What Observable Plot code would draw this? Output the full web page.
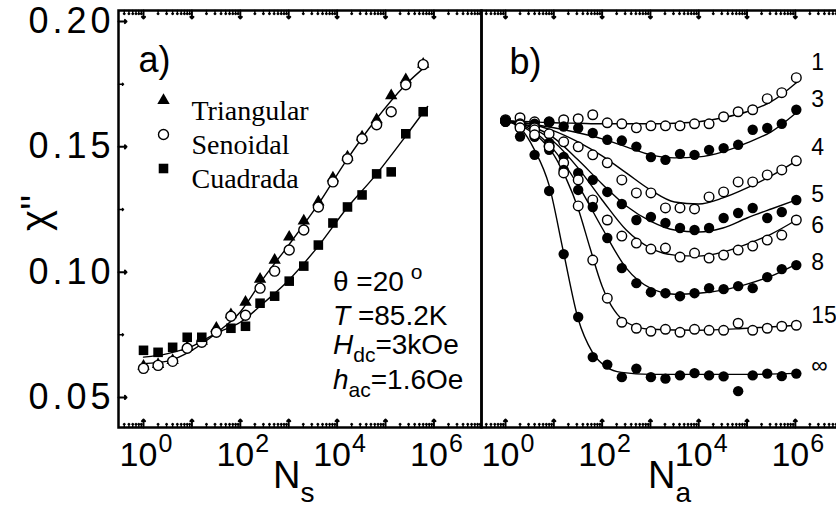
<!DOCTYPE html>
<html><head><meta charset="utf-8">
<script src="https://cdn.jsdelivr.net/npm/d3@7"></script>
<script src="https://cdn.jsdelivr.net/npm/@observablehq/plot@0.6"></script>
<style>
html,body{margin:0;padding:0;background:#fff;overflow:hidden;width:836px;height:520px}
#wrap{position:relative;width:836px;height:520px;overflow:hidden;background:#fff}
#wrap svg{position:absolute;top:0}
</style></head><body><div id="wrap"></div>
<script>
// ---------------- data : panel a (chi'' vs N_s) ----------------
const nsA = [1,2,4,8,16,32,64,128,256,512,1024,2048,4096,8192,16384,32768,65536,131072,262144,600000];
const triangular = [0.0625,0.0632,0.0648,0.0700,0.0724,0.0776,0.0830,0.0880,0.0972,0.1048,0.1140,0.1204,0.1280,0.1376,0.1460,0.1540,0.1608,0.1704,0.1768,0.1830];
const senoidal   = [0.0616,0.0628,0.0644,0.0696,0.0720,0.0760,0.0824,0.0828,0.0936,0.1004,0.1088,0.1168,0.1260,0.1360,0.1452,0.1532,0.1588,0.1640,0.1748,0.1828];
const cuadrada   = [0.0688,0.0680,0.0700,0.0740,0.0740,null,0.0776,0.0784,0.0876,0.0904,0.0964,0.1024,0.1108,0.1196,0.1260,0.1308,0.1392,0.1400,0.1552,0.1640];
// fitted curves (log10 N_s, chi'')
const fitLogA   = [0,0.5,1,1.5,2,2.5,3,3.6,4.2,4.77,5.41,5.87];
const fitTriSen = [0.0635,0.0645,0.0688,0.0756,0.0841,0.0981,0.1108,0.1268,0.1448,0.1601,0.1747,0.1828];
const fitCuad   = [0.0661,0.0675,0.0704,0.0756,0.0800,0.0880,0.0968,0.1101,0.1255,0.1381,0.1541,0.1661];
const legendNames = ["Triangular","Senoidal","Cuadrada"];

// ---------------- data : panel b (chi'' vs N_a) ----------------
const naB = [1,2,4,8,16,32,64,128,256,512,1024,2048,4096,8192,16384,32768,65536,131072,262144,524288,1048576];
const curveNames = ["1","3","4","5","6","8","15","∞"];
const s1   = [0.1604,0.1616,0.1600,0.1600,0.1608,0.1612,0.1628,0.1596,0.1592,0.1576,0.1584,0.1584,0.1584,0.1592,0.1592,0.1620,0.1640,0.1648,0.1692,0.1716,0.1776];
const s3   = [0.1605,0.1581,0.1592,0.1599,0.1581,0.1575,0.1555,0.1528,0.1525,0.1501,0.1459,0.1448,0.1472,0.1468,0.1488,0.1495,0.1508,0.1568,0.1575,0.1592,0.1648];
const s4   = [0.1604,0.1592,0.1576,0.1552,0.1520,0.1500,0.1468,0.1436,0.1368,0.1316,0.1316,0.1256,0.1256,0.1252,0.1300,0.1320,0.1360,0.1360,0.1388,0.1408,0.1444];
const s5   = [0.1600,0.1580,0.1564,0.1516,0.1460,0.1396,0.1368,0.1320,0.1272,0.1208,0.1220,0.1196,0.1176,0.1168,0.1176,0.1216,0.1236,0.1256,0.1216,0.1240,0.1288];
const s6   = [0.1608,0.1588,0.1568,0.1504,0.1436,0.1368,0.1288,0.1208,0.1144,0.1116,0.1092,0.1096,0.1060,0.1076,0.1056,0.1068,0.1088,0.1104,0.1128,0.1148,0.1208];
const s8   = [0.1600,0.1576,0.1540,0.1488,0.1408,0.1328,0.1260,0.1136,0.1016,0.0956,0.0920,0.0916,0.0904,0.0916,0.0936,0.0932,0.0944,0.0936,0.0980,0.1012,0.1028];
const s15  = [0.1604,0.1576,0.1548,0.1500,0.1396,0.1264,0.1048,0.0896,0.0800,0.0776,0.0764,0.0772,0.0760,0.0772,0.0768,0.0768,0.0796,0.0768,0.0776,0.0784,0.0788];
const sInf = [0.1604,0.1541,0.1468,0.1324,0.1072,0.0821,0.0661,0.0631,0.0581,0.0615,0.0581,0.0575,0.0588,0.0597,0.0588,0.0584,0.0525,0.0588,0.0595,0.0585,0.0595];
// fitted curves (log10 N_a, chi'')
const fitLogB  = [0,0.5,1,1.5,2,2.5,3,3.5,4,4.5,5,5.5,6.02];
const fit1   = [0.1604,0.1600,0.1596,0.1594,0.1592,0.1592,0.1592,0.1594,0.1600,0.1616,0.1640,0.1680,0.1756];
const fit3   = [0.1604,0.1592,0.1576,0.1556,0.1532,0.1500,0.1468,0.1456,0.1460,0.1480,0.1516,0.1560,0.1636];
const fit4   = [0.1604,0.1592,0.1564,0.1520,0.1464,0.1396,0.1328,0.1280,0.1272,0.1296,0.1336,0.1384,0.1444];
const fit5   = [0.1604,0.1584,0.1536,0.1448,0.1352,0.1264,0.1204,0.1168,0.1160,0.1176,0.1216,0.1252,0.1288];
const fit6   = [0.1604,0.1580,0.1520,0.1416,0.1288,0.1168,0.1096,0.1068,0.1064,0.1080,0.1112,0.1152,0.1208];
const fit8   = [0.1604,0.1572,0.1488,0.1348,0.1176,0.1016,0.0936,0.0912,0.0916,0.0928,0.0952,0.0984,0.1032];
const fitLogB15 = [0,0.5,1,1.25,1.5,1.75,2,2.25,2.5,3,4,5,6.02];
const fit15  = [0.1604,0.1564,0.1468,0.1376,0.1256,0.1096,0.0944,0.0848,0.0800,0.0772,0.0768,0.0776,0.0788];
const fitLogBInf = [0,0.3,0.6,0.9,1.2,1.5,1.8,2.1,2.4,3,4,5,6.02];
const fitInf = [0.1604,0.1576,0.1488,0.1348,0.1080,0.0816,0.0680,0.0620,0.0600,0.0592,0.0592,0.0592,0.0596];
const curveLabelChi = [0.1836,0.1688,0.1496,0.1308,0.1184,0.1036,0.0828,0.0628];

// ---------------- axes ----------------
const decades = [1,10,100,1e3,1e4,1e5,1e6];
const labelDecades = [1,100,1e4,1e6];
const chiTicks = [0.05,0.10,0.15,0.20];
const chiMinor = [0.075,0.125,0.175];
const chiDomain = [0.038,0.2044];

const SANS = "'Liberation Sans', Arial, Helvetica, sans-serif";
const SERIF = "'Liberation Serif', 'Times New Roman', serif";

function xTickMarks(dom){
  const major = decades.filter(d => d >= dom[0] && d <= dom[1]);
  const minor = [];
  [0.1, ...decades].forEach(d => d3.range(2,10).forEach(m => { const v = d*m; if (v >= dom[0] && v <= dom[1]) minor.push(v); }));
  const o = {x: d => d, anchor: "start", stroke: "black"};
  return [
    Plot.vectorX(major, {...o, frameAnchor: "bottom", rotate: 0, length: 8, strokeWidth: 2}),
    Plot.vectorX(minor, {...o, frameAnchor: "bottom", rotate: 0, length: 4, strokeWidth: 1.5}),
    Plot.vectorX(major, {...o, frameAnchor: "top", rotate: 180, length: 8, strokeWidth: 2}),
    Plot.vectorX(minor, {...o, frameAnchor: "top", rotate: 180, length: 4, strokeWidth: 1.5}),
    Plot.text(labelDecades, {x: d => d, text: () => "10", frameAnchor: "bottom", dy: 38, dx: -5, textAnchor: "middle", fontSize: 34, fontFamily: SANS, fill: "black"}),
    Plot.text(labelDecades, {x: d => d, text: d => String(Math.round(Math.log10(d))), frameAnchor: "bottom", dy: 24, dx: 15, textAnchor: "start", fontSize: 25, fontFamily: SANS, fill: "black"})
  ];
}

function panel({width, marginLeft, marginRight, xDomain, marks}){
  return Plot.plot({
    width, height: 520, marginLeft, marginRight, marginTop: 10, marginBottom: 93,
    x: {type: "log", domain: xDomain, axis: null},
    y: {domain: chiDomain, axis: null},
    style: {background: "transparent", fontFamily: SANS, overflow: "visible"},
    marks: [...xTickMarks(xDomain), ...marks, Plot.frame({stroke: "black", strokeWidth: 2.5})]
  });
}

const lineOpts = {stroke: "black", strokeWidth: 1.4, curve: "monotone-x"};
const fitRows = (logs, vals) => logs.map((l, i) => ({n: 10 ** l, chi: vals[i]}));
const ptRows = (ns, vals) => ns.map((n, i) => ({n, chi: vals[i]})).filter(d => d.chi != null);

// ---------------- panel a ----------------
const domA = [10 ** -0.5165, 10 ** 6.983];
const legendSymbols = ["triangle", "circle", "square"];
const legendMarks = legendNames.flatMap((name, i) => [
  Plot.dot([name], {frameAnchor: "top-left", dx: 45, dy: 90 + i * 34, symbol: () => legendSymbols[i],
    r: i === 0 ? 4.6 : i === 1 ? 5 : 5.4, fill: i === 1 ? "white" : "black", stroke: "black", strokeWidth: i === 1 ? 1.4 : 0}),
  Plot.text([name], {frameAnchor: "top-left", dx: 73, dy: 90 + i * 34, text: d => d, textAnchor: "start", fontSize: 28, fontFamily: SERIF, fill: "black"})
]);

const INFO_X = 333;
const infoMark = () => {
  const g = d3.create("svg:g").attr("font-family", SANS).attr("font-size", 28).attr("fill", "black").attr("text-anchor", "start");
  const t1 = g.append("text").attr("x", INFO_X).attr("y", 291);
  t1.append("tspan").text("θ =20");
  t1.append("tspan").attr("dx", 7).attr("dy", -12).attr("font-size", 21).text("o");
  const t2 = g.append("text").attr("x", INFO_X).attr("y", 325);
  t2.append("tspan").attr("font-style", "italic").text("T");
  t2.append("tspan").text(" =85.2K");
  const t3 = g.append("text").attr("x", INFO_X).attr("y", 354);
  t3.append("tspan").attr("font-style", "italic").text("H");
  t3.append("tspan").attr("dy", 8).attr("font-size", 21).text("dc");
  t3.append("tspan").attr("dy", -8).text("=3kOe");
  const t4 = g.append("text").attr("x", INFO_X).attr("y", 389);
  t4.append("tspan").attr("font-style", "italic").text("h");
  t4.append("tspan").attr("dy", 8).attr("font-size", 21).text("ac");
  t4.append("tspan").attr("dy", -8).text("=1.6Oe");
  return g.node();
};

const plotA = panel({
  width: 484, marginLeft: 118, marginRight: 3, xDomain: domA,
  marks: [
    Plot.vectorY(chiTicks, {y: d => d, frameAnchor: "left", rotate: 90, anchor: "start", length: 8, stroke: "black", strokeWidth: 2}),
    Plot.vectorY(chiMinor, {y: d => d, frameAnchor: "left", rotate: 90, anchor: "start", length: 5, stroke: "black", strokeWidth: 1.5}),
    Plot.text(chiTicks, {y: d => d, text: d => d.toFixed(2), frameAnchor: "left", dx: -4, textAnchor: "end", fontSize: 36, fontFamily: SANS, fill: "black"}),
    Plot.text(["χ''"], {frameAnchor: "left", dx: -82, dy: 12, rotate: -90, fontSize: 40, fontFamily: SANS, fill: "black"}),
    Plot.text(["N"], {frameAnchor: "bottom-left", dx: 182, dy: 60, textAnchor: "end", fontSize: 38, fontFamily: SANS, fill: "black"}),
    Plot.text(["s"], {frameAnchor: "bottom-left", dx: 182, dy: 74, textAnchor: "start", fontSize: 28, fontFamily: SANS, fill: "black"}),
    Plot.text(["a)"], {frameAnchor: "top-left", dx: 20, dy: 36, textAnchor: "start", fontSize: 36, fontFamily: SANS, fill: "black"}),
    Plot.line(fitRows(fitLogA, fitTriSen), {x: "n", y: "chi", ...lineOpts}),
    Plot.line(fitRows(fitLogA, fitCuad), {x: "n", y: "chi", ...lineOpts}),
    Plot.dot(ptRows(nsA, triangular), {x: "n", y: "chi", symbol: "triangle", r: 4.6, fill: "black"}),
    Plot.dot(ptRows(nsA, senoidal), {x: "n", y: "chi", symbol: "circle", r: 5, fill: "white", stroke: "black", strokeWidth: 1.4}),
    Plot.dot(ptRows(nsA, cuadrada), {x: "n", y: "chi", symbol: "square", r: 5.4, fill: "black"}),
    ...legendMarks,
    infoMark
  ]
});
// slightly wider tracking of the chi'' tick labels, as in the reference typeface
const chiLabelTexts = chiTicks.map(d => d.toFixed(2));
d3.select(plotA).selectAll("text").filter(function () { return chiLabelTexts.includes(this.textContent); })
  .attr("letter-spacing", 4);

// ---------------- panel b ----------------
const domB = [10 ** -0.497, 10 ** 7.018];
const seriesB = [s1, s3, s4, s5, s6, s8, s15, sInf];
const fitsB = [[fitLogB, fit1], [fitLogB, fit3], [fitLogB, fit4], [fitLogB, fit5], [fitLogB, fit6], [fitLogB, fit8], [fitLogB15, fit15], [fitLogBInf, fitInf]];

const plotB = panel({
  width: 370, marginLeft: 3, marginRight: 4, xDomain: domB,
  marks: [
    Plot.text(["N"], {frameAnchor: "bottom-left", dx: 194, dy: 60, textAnchor: "end", fontSize: 38, fontFamily: SANS, fill: "black"}),
    Plot.text(["a"], {frameAnchor: "bottom-left", dx: 194, dy: 74, textAnchor: "start", fontSize: 28, fontFamily: SANS, fill: "black"}),
    Plot.text(["b)"], {frameAnchor: "top-left", dx: 28, dy: 38, textAnchor: "start", fontSize: 36, fontFamily: SANS, fill: "black"}),
    ...fitsB.map(([l, v]) => Plot.line(fitRows(l, v), {x: "n", y: "chi", ...lineOpts})),
    ...seriesB.map((vals, i) => Plot.dot(ptRows(naB, vals), {x: "n", y: "chi", r: i % 2 ? 5.2 : 4.8,
      fill: i % 2 ? "black" : "white", stroke: "black", strokeWidth: i % 2 ? 0 : 1.4})),
    Plot.text(curveNames.map((name, i) => ({name, chi: curveLabelChi[i]})), {x: () => 10 ** 6.33, y: "chi", text: "name", textAnchor: "start", fontSize: 23, fontFamily: SANS, fill: "black"})
  ]
});

const wrap = document.getElementById("wrap");
plotA.style.left = "0px";
plotB.style.left = "478px";
wrap.appendChild(plotB);
wrap.appendChild(plotA);
</script>
</body></html>
